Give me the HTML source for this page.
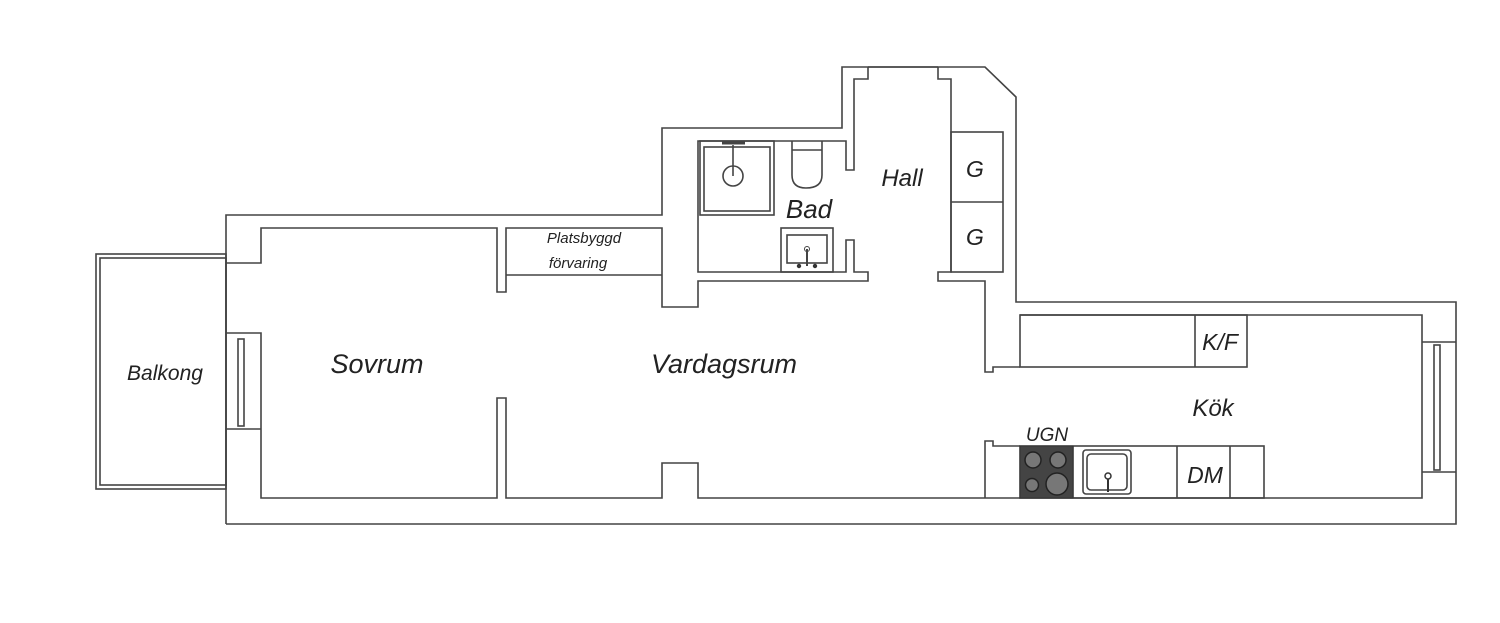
<!DOCTYPE html>
<html><head><meta charset="utf-8"><style>
html,body{margin:0;padding:0;background:#fff;}
svg{display:block}
text{font-family:"Liberation Sans",sans-serif;font-style:italic;fill:#222;text-anchor:middle}
</style></head><body>
<svg width="1500" height="623" viewBox="0 0 1500 623" xmlns="http://www.w3.org/2000/svg">
<g fill="none" stroke="#444" stroke-width="1.6">
<rect x="96" y="254" width="130" height="235"/>
<rect x="100" y="258" width="126" height="227"/>
<polyline points="226,524 226,215 662,215 662,128 842,128 842,67 985,67 1016,97 1016,302 1456,302 1456,524 226,524"/>
<polyline points="226,263 261,263 261,228 497,228 497,292 506,292 506,228 662,228 662,307 698,307 698,281 868,281 868,272 854,272 854,240 846,240 846,272 698,272 698,141 846,141 846,170 854,170 854,79 868,79 868,67"/>
<polyline points="938,67 938,79 951,79 951,272 938,272 938,281 985,281 985,372 993,372 993,367 1020,367"/>
<line x1="868" y1="67" x2="938" y2="67"/>
<polyline points="226,333 261,333 261,498 497,498 497,398 506,398 506,498 662,498 662,463 698,463 698,498 1422,498 1422,315 1020,315"/>
<line x1="226" y1="429" x2="261" y2="429"/>
<polyline points="985,498 985,441 993,441 993,446 1020,446"/>
<line x1="506" y1="275" x2="662" y2="275"/>
<rect x="951" y="132" width="52" height="140"/>
<line x1="951" y1="202" x2="1003" y2="202"/>
<rect x="1020" y="315" width="227" height="52"/>
<line x1="1195" y1="315" x2="1195" y2="367"/>
<rect x="1020" y="446" width="244" height="52"/>
<line x1="1073" y1="446" x2="1073" y2="498"/>
<line x1="1177" y1="446" x2="1177" y2="498"/>
<line x1="1230" y1="446" x2="1230" y2="498"/>
<rect x="1083" y="450" width="48" height="44" rx="3"/>
<rect x="1087" y="454" width="40" height="36" rx="4"/>
<line x1="1422" y1="342" x2="1456" y2="342"/>
<line x1="1422" y1="472" x2="1456" y2="472"/>
<rect x="1434" y="345" width="6" height="125"/>
<rect x="238" y="339" width="6" height="87"/>
<rect x="700" y="141" width="74" height="74"/>
<rect x="704" y="147" width="66" height="64"/>
<circle cx="733" cy="176" r="10"/>
<line x1="733" y1="145" x2="733" y2="176"/>
<line x1="722" y1="143" x2="745" y2="143" stroke-width="3"/>
<path d="M792,141 V175 Q792,188 806,188 Q822,188 822,175 V141"/>
<line x1="792" y1="150" x2="822" y2="150"/>
<rect x="781" y="228" width="52" height="44"/>
<rect x="787" y="235" width="40" height="28"/>
<line x1="807" y1="249" x2="807" y2="266" stroke-width="2"/>
</g>
<circle cx="807" cy="249" r="2.5" fill="none" stroke="#444"/>
<circle cx="799" cy="266" r="2.2" fill="#333"/><circle cx="815" cy="266" r="2.2" fill="#333"/>
<circle cx="1108" cy="476" r="3" fill="none" stroke="#333" stroke-width="1.5"/>
<line x1="1108" y1="479" x2="1108" y2="492" stroke="#333" stroke-width="2"/>
<rect x="1020" y="446" width="53" height="52" fill="#444" stroke="#333"/>
<g fill="#777" stroke="#222" stroke-width="1.5">
<circle cx="1033" cy="460" r="8"/><circle cx="1058" cy="460" r="8"/>
<circle cx="1032" cy="485" r="6.5"/><circle cx="1057" cy="484" r="11"/>
</g>
<text x="165" y="380" font-size="21">Balkong</text>
<text x="377" y="373" font-size="27">Sovrum</text>
<text x="724" y="373" font-size="27">Vardagsrum</text>
<text x="584" y="243" font-size="15">Platsbyggd</text>
<text x="578" y="268" font-size="15">förvaring</text>
<text x="809" y="218" font-size="26">Bad</text>
<text x="902" y="186" font-size="24">Hall</text>
<text x="975" y="177" font-size="23">G</text>
<text x="975" y="245" font-size="23">G</text>
<text x="1220" y="350" font-size="23">K/F</text>
<text x="1213" y="416" font-size="24">Kök</text>
<text x="1047" y="441" font-size="19">UGN</text>
<text x="1205" y="483" font-size="23">DM</text>
</svg>
</body></html>
